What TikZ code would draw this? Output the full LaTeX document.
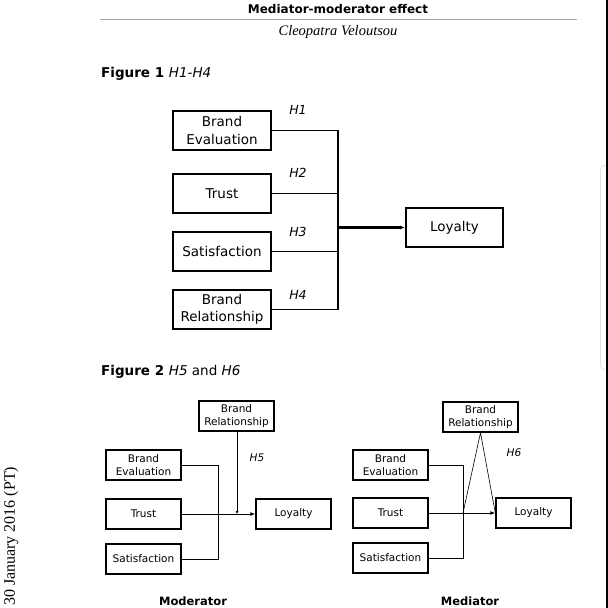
\documentclass[tikz,border=0pt]{standalone}
\usepackage{fontspec}
\setmainfont{DejaVu Sans}
\newfontfamily\serfont{Liberation Serif}
\usetikzlibrary{arrows.meta}
\begin{document}
\begin{tikzpicture}[x=1pt,y=-1pt,
  boxa/.style={draw,line width=2pt,minimum width=98pt,minimum height=39pt,align=center,inner sep=1pt,font=\fontsize{13.5}{17.5}\selectfont},
  boxb/.style={draw,line width=1.4pt,minimum width=75pt,minimum height=30pt,align=center,inner sep=1pt,font=\fontsize{10.5}{13}\selectfont},
  conna/.style={line width=1.7pt},
  connb/.style={line width=0.9pt},
  thinl/.style={line width=0.6pt},
  hlab/.style={font=\fontsize{12.5}{13}\selectfont\itshape},
  hlabb/.style={font=\fontsize{10.5}{11}\selectfont\itshape},
  headb/.style={font=\bfseries\fontsize{11.5}{12}\selectfont},
  tip/.style={-{Latex[length=5pt,width=4pt]}}
]
\useasboundingbox (0,0) rectangle (608,608);
\fill[white] (0,0) rectangle (608,608);
% page decorations
\fill[black] (605.5,0) rectangle (608,608);
\draw[gray!25,line width=0.8pt,rounded corners=5pt] (605.5,165) -- (600.5,165) -- (600.5,370) -- (605.5,370);
\node[font=\bfseries\fontsize{12}{13}\selectfont] (title) at (338,9) {Mediator-moderator effect};
\draw[gray!70,line width=1pt] (100,19.5) -- (577,19.5);
\node[font=\serfont\itshape\fontsize{14.5}{15}\selectfont] (author) at (338,32) {Cleopatra Veloutsou};
\node[anchor=west,inner sep=0pt,font=\fontsize{13.5}{14}\selectfont] (fig1) at (101,74) {\bfseries Figure 1 \mdseries\itshape H1-H4};
\node[anchor=west,inner sep=0pt,font=\fontsize{13.5}{14}\selectfont] (fig2) at (101,372) {\bfseries Figure 2 \mdseries\itshape H5 \upshape and \itshape H6};
\node[rotate=90,anchor=west,inner sep=0pt,font=\serfont\fontsize{16}{16}\selectfont] (date) at (11,606) {30 January 2016 (PT)};

% Figure 1
\node[boxa] (be) at (222,130.5) {Brand\\Evaluation};
\node[boxa] (tr) at (222,193.5) {Trust};
\node[boxa] (sa) at (222,251.5) {Satisfaction};
\node[boxa] (br) at (222,309.5) {Brand\\Relationship};
\node[boxa,minimum width=97pt] (lo) at (454.5,227.5) {Loyalty};
\coordinate (bus) at (338,0);
\draw[conna] (be.east) -| (bus |- br.east) -- (br.east);
\draw[conna] (tr.east) -- (tr.east -| bus);
\draw[conna] (sa.east) -- (sa.east -| bus);
\draw[conna,line width=2.2pt,tip] (bus |- lo.west) -- (lo.west);
\node[hlab] (h1) at (298,110) {H1};
\node[hlab] (h2) at (298,173) {H2};
\node[hlab] (h3) at (298,232) {H3};
\node[hlab] (h4) at (298,295) {H4};

% Figure 2 - Moderator
\node[boxb] (mbr) at (236.5,416) {Brand\\Relationship};
\node[boxb] (mbe) at (143.5,465) {Brand\\Evaluation};
\node[boxb] (mtr) at (143.5,514) {Trust};
\node[boxb] (msa) at (143.5,559) {Satisfaction};
\node[boxb] (mlo) at (293.5,514) {Loyalty};
\coordinate (mbus) at (218,0);
\draw[connb] (mbe.east) -| (mbus |- msa.east) -- (msa.east);
\draw[connb,tip] (mtr.east) -- (mlo.west);
\draw[connb,-{Latex[length=3pt,width=3pt]}] (mbr.south -| 237,0) -- (237,514);
\node[hlabb] (h5) at (257,458) {H5};
\node[headb] (mod) at (193,601) {Moderator};

% Figure 2 - Mediator
\node[boxb] (dbr) at (480.5,417) {Brand\\Relationship};
\node[boxb] (dbe) at (390.5,465) {Brand\\Evaluation};
\node[boxb] (dtr) at (390.5,513) {Trust};
\node[boxb] (dsa) at (390.5,558) {Satisfaction};
\node[boxb] (dlo) at (533.5,513) {Loyalty};
\coordinate (dbus) at (463,0);
\draw[connb] (dbe.east) -| (dbus |- dsa.east) -- (dsa.east);
\draw[connb,tip] (dtr.east) -- (dlo.west);
\draw[thinl] (dbus |- dtr.east) -- (dbr.south) -- (dlo.west);
\node[hlabb] (h6) at (514,453) {H6};
\node[headb] (med) at (470,601) {Mediator};
\end{tikzpicture}
\end{document}
